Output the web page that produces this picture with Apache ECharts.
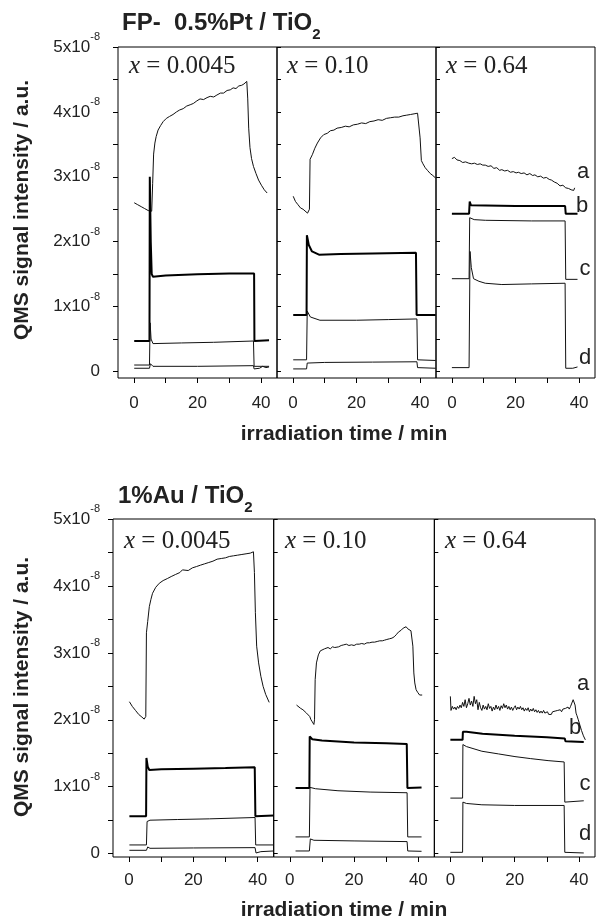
<!DOCTYPE html>
<html><head><meta charset="utf-8">
<script src="https://cdn.jsdelivr.net/npm/echarts@6/dist/echarts.min.js"></script>
<style>html,body{margin:0;padding:0;background:#fff}#c{width:596px;height:922px}</style>
</head><body><div id="c"></div>
<script>
// time in min; QMS signal in units of 1e-8 a.u.
const xTickValues = [0, 10, 20, 30, 40];
const xLabelValues = [0, 20, 40];
const yTickValues = [0, 0.5, 1, 1.5, 2, 2.5, 3, 3.5, 4, 4.5, 5];
const yLabelValues = [0, 1, 2, 3, 4, 5];
const panelXLabels = ['0.0045', '0.10', '0.64'];
const curveLetters = ['a', 'b', 'c', 'd'];

// ---- FP- 0.5%Pt / TiO2 ----
const pt1_a = [[0.1,2.6],[1.2,2.57],[2.3,2.54],[3.4,2.51],[4.5,2.48],[5.6,2.47],[5.9,2.9],[6.2,3.35],[6.6,3.52],[7.0,3.62],[7.6,3.72],[8.4,3.79],[9.2,3.85],[10.2,3.9],[11.2,3.93],[12.3,3.96],[13.4,4.0],[14.4,4.03],[15.5,4.05],[16.6,4.09],[17.7,4.11],[18.7,4.13],[19.8,4.17],[20.8,4.2],[21.9,4.19],[23.0,4.22],[24.0,4.24],[25.1,4.23],[26.1,4.26],[27.2,4.29],[28.2,4.29],[29.3,4.33],[30.3,4.34],[31.2,4.37],[32.1,4.36],[33.0,4.4],[33.9,4.41],[34.6,4.43],[35.2,4.43],[35.5,4.47],[35.8,4.2],[36.1,3.75],[36.5,3.45],[37.0,3.28],[37.6,3.16],[38.4,3.05],[39.2,2.95],[40.1,2.87],[41.0,2.8],[41.9,2.75]];
const pt1_b = [[0.1,0.47],[4.9,0.47],[5.0,3.0],[5.3,2.0],[5.6,1.5],[6.0,1.46],[10,1.48],[20,1.5],[30,1.51],[37.8,1.51],[37.9,0.47],[42.5,0.48]];
const pt1_c = [[0.1,0.1],[4.9,0.1],[5.1,0.75],[5.4,0.5],[6.0,0.43],[15,0.44],[25,0.45],[37.6,0.47],[37.8,0.08],[42.5,0.08]];
const pt1_d = [[0.1,0.05],[4.9,0.05],[5.2,0.12],[6.0,0.08],[20,0.08],[37.6,0.09],[37.8,0.04],[39.5,0.05],[40.5,0.08],[41.5,0.06],[42.5,0.07]];

const pt2_a = [[0.1,2.7],[0.8,2.62],[1.6,2.57],[2.4,2.52],[3.2,2.5],[3.8,2.47],[4.6,2.44],[5.2,2.5],[5.4,3.27],[6.1,3.34],[6.9,3.44],[7.7,3.52],[8.7,3.6],[9.7,3.65],[10.8,3.67],[11.8,3.71],[12.9,3.72],[13.9,3.75],[15.2,3.76],[16.5,3.78],[17.7,3.77],[19.0,3.8],[20.3,3.81],[21.6,3.83],[22.9,3.82],[24.2,3.85],[25.5,3.86],[26.8,3.88],[28.1,3.87],[29.4,3.9],[30.7,3.91],[32.0,3.92],[33.3,3.92],[34.6,3.94],[35.8,3.95],[37.0,3.96],[38.1,3.97],[39.2,3.98],[39.7,4.0],[40.0,3.6],[40.4,3.25],[40.9,3.2],[41.6,3.14],[42.3,3.1],[43.2,3.05],[44.0,3.02],[44.9,2.98]];
const pt2_b = [[0.1,0.87],[4.3,0.87],[4.4,2.1],[5.0,1.95],[6.0,1.85],[8.2,1.8],[15,1.81],[25,1.82],[38.7,1.83],[38.9,0.87],[44.9,0.87]];
const pt2_c = [[0.1,0.18],[4.3,0.18],[4.5,0.93],[5.5,0.84],[8.5,0.79],[20,0.79],[30,0.8],[39.0,0.81],[39.2,0.18],[44.9,0.17]];
const pt2_d = [[0.1,0.04],[4.3,0.04],[4.5,0.13],[10,0.14],[25,0.145],[39.0,0.15],[39.2,0.06],[44.9,0.05]];

const pt3_a = [[0,3.28],[0.8,3.3],[1.6,3.26],[2.5,3.25],[3.4,3.22],[4.3,3.23],[5.3,3.21],[6.2,3.2],[7.1,3.21],[8.0,3.19],[8.9,3.2],[9.7,3.18],[10.5,3.18],[11.4,3.16],[12.3,3.17],[13.2,3.13],[14.1,3.14],[15.0,3.1],[15.7,3.11],[16.6,3.09],[17.5,3.1],[18.4,3.07],[19.3,3.08],[20.2,3.06],[20.9,3.07],[21.8,3.05],[22.7,3.06],[23.6,3.03],[24.5,3.05],[25.4,3.02],[26.1,3.03],[27.0,3.0],[27.9,3.01],[28.8,2.98],[29.7,2.99],[30.6,2.96],[31.3,2.95],[32.2,2.92],[33.1,2.9],[34.0,2.86],[34.9,2.87],[35.8,2.83],[36.7,2.82],[37.5,2.8],[38.0,2.77],[38.3,2.79],[38.6,2.83]];
const pt3_b = [[0,2.43],[5.4,2.43],[5.6,2.62],[6.0,2.56],[20,2.55],[35.6,2.55],[35.8,2.43],[39.5,2.43]];
const pt3_c = [[0,1.43],[5.4,1.43],[5.6,2.37],[7.0,2.34],[10.5,2.33],[25,2.32],[35.6,2.32],[35.8,1.42],[39.5,1.42]];
const pt3_d = [[0,0.06],[5.4,0.06],[5.7,1.85],[6.1,1.6],[6.8,1.43],[8.5,1.39],[10.5,1.36],[15.7,1.34],[25,1.35],[35.6,1.36],[35.8,0.05],[38,0.05],[39.5,0.07]];

// ---- 1%Au / TiO2 ----
const au1_a = [[0.1,2.27],[1.0,2.2],[2.0,2.14],[3.0,2.08],[4.0,2.04],[4.7,2.01],[5.2,2.05],[5.4,3.3],[5.8,3.47],[6.3,3.69],[6.8,3.8],[7.3,3.89],[8.3,3.98],[9.4,4.04],[10.6,4.08],[11.9,4.11],[13.1,4.14],[14.4,4.17],[15.8,4.2],[16.6,4.24],[17.1,4.22],[18.4,4.23],[19.7,4.27],[21.0,4.29],[22.2,4.31],[23.5,4.33],[24.8,4.35],[26.1,4.37],[27.4,4.4],[28.7,4.41],[30.0,4.42],[31.2,4.44],[32.5,4.45],[33.8,4.46],[35.1,4.47],[36.4,4.48],[37.7,4.49],[38.7,4.51],[39.0,4.2],[39.3,3.6],[39.7,3.1],[40.3,2.85],[41.0,2.65],[41.7,2.5],[42.5,2.38],[43.6,2.26]];
const au1_b = [[0.1,0.56],[5.3,0.56],[5.4,1.43],[5.8,1.3],[6.3,1.25],[10,1.26],[20,1.27],[30,1.28],[39.1,1.29],[39.3,0.56],[45,0.57]];
const au1_c = [[0.1,0.13],[5.4,0.13],[5.6,0.48],[6.5,0.5],[15,0.51],[25,0.52],[39.2,0.54],[39.4,0.13],[45,0.13]];
const au1_d = [[0.1,0.05],[5.4,0.05],[5.8,0.1],[6.5,0.08],[20,0.085],[39.2,0.09],[39.5,0.01],[41,0.03],[45,0.04]];

const au2_a = [[2.1,2.22],[2.7,2.2],[3.4,2.17],[4.1,2.15],[4.6,2.13],[5.2,2.1],[5.7,2.08],[6.2,2.05],[6.6,2.0],[7.0,1.97],[7.3,1.99],[7.5,1.93],[7.7,2.0],[7.9,2.6],[8.3,2.85],[8.9,2.97],[9.5,3.03],[10.1,3.05],[10.8,3.06],[11.3,3.07],[11.9,3.08],[12.6,3.06],[13.3,3.09],[14.0,3.08],[14.5,3.1],[15.2,3.09],[16.0,3.11],[16.8,3.12],[17.6,3.13],[18.4,3.11],[19.2,3.12],[20.0,3.11],[20.8,3.13],[21.6,3.13],[22.4,3.14],[23.2,3.13],[24.0,3.15],[24.8,3.15],[25.6,3.16],[26.4,3.16],[27.2,3.17],[28.0,3.18],[28.8,3.18],[29.5,3.19],[30.2,3.2],[31.0,3.21],[31.8,3.22],[32.5,3.24],[33.1,3.27],[33.8,3.31],[34.7,3.34],[35.3,3.37],[35.8,3.38],[36.2,3.39],[36.7,3.36],[37.2,3.34],[37.7,3.33],[38.1,3.32],[38.3,3.1],[38.6,2.7],[38.9,2.55],[39.3,2.45],[39.8,2.41],[40.4,2.37],[40.8,2.38],[41.2,2.37]];
const au2_b = [[1.8,0.98],[6.1,0.98],[6.2,1.75],[7.0,1.71],[10,1.69],[20,1.66],[30,1.65],[36.4,1.64],[36.6,0.98],[41,0.99]];
const au2_c = [[1.8,0.25],[6.1,0.25],[6.3,0.99],[8,0.97],[15,0.94],[25,0.92],[36.5,0.91],[36.7,0.25],[41,0.25]];
const au2_d = [[1.8,0.04],[6.1,0.04],[6.4,0.22],[7.5,0.2],[20,0.19],[36.5,0.18],[36.7,0.04],[41,0.035]];

const au3_a = [[0,2.35],[0.2,2.14],[0.6,2.2],[1.0,2.16],[1.4,2.19],[1.8,2.15],[2.2,2.2],[2.6,2.17],[3.0,2.22],[3.4,2.18],[3.8,2.26],[4.2,2.2],[4.6,2.3],[5.0,2.18],[5.4,2.24],[5.8,2.32],[6.2,2.22],[6.6,2.28],[7.0,2.2],[7.4,2.35],[7.8,2.24],[8.2,2.3],[8.6,2.15],[9.0,2.26],[9.4,2.18],[9.8,2.14],[10.2,2.22],[10.6,2.16],[11.0,2.2],[11.4,2.15],[11.8,2.24],[12.2,2.17],[12.6,2.2],[13.0,2.13],[13.4,2.19],[13.8,2.15],[14.2,2.22],[14.6,2.16],[15.0,2.2],[15.4,2.14],[15.8,2.21],[16.2,2.17],[16.6,2.24],[17.0,2.18],[17.4,2.22],[17.8,2.16],[18.2,2.2],[18.6,2.15],[19.0,2.19],[19.4,2.14],[19.8,2.18],[20.2,2.21],[20.6,2.15],[21.0,2.19],[21.4,2.16],[21.8,2.2],[22.2,2.15],[22.6,2.18],[23.0,2.13],[23.4,2.17],[23.8,2.14],[24.2,2.18],[24.6,2.12],[25.0,2.16],[25.4,2.13],[25.8,2.17],[26.2,2.12],[26.6,2.15],[27.0,2.11],[27.4,2.14],[27.8,2.1],[28.2,2.13],[28.6,2.1],[29.0,2.14],[29.4,2.1],[29.8,2.09],[30.2,2.12],[30.6,2.08],[31.0,2.1],[31.4,2.08],[31.8,2.12],[32.2,2.1],[32.6,2.13],[33.0,2.11],[33.4,2.14],[33.8,2.12],[34.2,2.15],[34.6,2.12],[35.0,2.16],[35.4,2.14],[35.8,2.17],[36.2,2.15],[36.6,2.19],[37.0,2.16],[37.4,2.2],[37.8,2.25],[38.2,2.3],[38.5,2.32],[38.8,2.22],[39.1,2.1],[39.4,2.06],[39.8,2.0],[40.3,1.92],[40.8,1.84],[41.4,1.76],[42.0,1.7]];
const au3_b = [[0,1.70],[3.8,1.70],[3.9,1.82],[5,1.82],[10,1.79],[20,1.76],[30,1.74],[35.6,1.72],[35.8,1.68],[41.5,1.67]];
const au3_c = [[0,0.83],[3.8,0.83],[3.9,1.63],[5,1.6],[9.8,1.53],[15,1.49],[20.1,1.45],[25,1.42],[30.4,1.39],[35.4,1.37],[35.6,0.77],[41.5,0.79]];
const au3_d = [[0,0.02],[3.8,0.02],[3.9,0.77],[5,0.75],[9.8,0.73],[20,0.72],[35.4,0.72],[35.6,0.02],[41.5,0.01]];

const panelData = [
  [pt1_a, pt1_b, pt1_c, pt1_d], [pt2_a, pt2_b, pt2_c, pt2_d], [pt3_a, pt3_b, pt3_c, pt3_d],
  [au1_a, au1_b, au1_c, au1_d], [au2_a, au2_b, au2_c, au2_d], [au3_a, au3_b, au3_c, au3_d]
];

const rows = [
  {top: 47, height: 331, lefts: [118, 277, 436], width: 159, ymin: -0.1, xMargin: 17, yMargin: 18},
  {top: 519, height: 338, lefts: [113, 273.7, 434.3], width: 160.7, ymin: -0.05, xMargin: 15, yMargin: 13}
];

const SANS = 'Liberation Sans, Arial, sans-serif';
const SERIF = 'Liberation Serif, Times New Roman, serif';
const grids = [], xAxes = [], yAxes = [], series = [];
rows.forEach((r, ri) => {
  r.lefts.forEach((l, pi) => {
    const gi = grids.length;
    grids.push({left: l, top: r.top, width: r.width, height: r.height, show: true,
      borderColor: '#000', borderWidth: 1, backgroundColor: 'transparent', containLabel: false});
    xAxes.push({type: 'value', gridIndex: gi, min: -5, max: 45, position: 'bottom',
      axisLine: {show: false, onZero: false}, splitLine: {show: false},
      axisTick: {show: true, customValues: xTickValues, length: 5, lineStyle: {color: '#000'}},
      axisLabel: {show: true, customValues: xLabelValues, margin: r.xMargin, fontSize: 17,
        fontFamily: SANS, color: '#222'}});
    yAxes.push({type: 'value', gridIndex: gi, min: r.ymin, max: 5, position: 'left',
      axisLine: {show: false, onZero: false}, splitLine: {show: false},
      axisTick: {show: true, customValues: yTickValues, inside: pi > 0, length: pi > 0 ? 4 : 5,
        lineStyle: {color: '#000'}},
      axisLabel: {show: pi === 0, customValues: yLabelValues, margin: r.yMargin, fontFamily: SANS,
        formatter: v => v === 0 ? '{b|0}' : '{b|' + v + 'x10}{s|-8}',
        rich: {b: {fontSize: 17, lineHeight: 31, color: '#222', fontFamily: SANS},
               s: {fontSize: 11, lineHeight: 11, verticalAlign: 'top', color: '#222', fontFamily: SANS}}}});
    const d = panelData[gi];
    d.forEach((arr, ci) => {
      series.push({type: 'line', name: curveLetters[ci], xAxisIndex: gi, yAxisIndex: gi, data: arr,
        symbol: 'none', smooth: false, silent: true,
        lineStyle: {color: ci === 1 ? '#000' : '#111', width: ci === 1 ? 2 : 1}});
    });
  });
});

const titleRich = {
  b: {fontSize: 24, fontWeight: 'bold', lineHeight: 37, color: '#222', fontFamily: SANS},
  s: {fontSize: 15, fontWeight: 'bold', lineHeight: 15, verticalAlign: 'bottom', color: '#222', fontFamily: SANS}
};
const xRich = {
  i: {fontSize: 25, fontStyle: 'italic', fontWeight: 'normal', fontFamily: SERIF, color: '#222', lineHeight: 25},
  n: {fontSize: 25, fontWeight: 'normal', fontFamily: SERIF, color: '#222', lineHeight: 25}
};
const titles = [
  {text: '{b|FP-  0.5%Pt / TiO}{s|2}', left: 122, top: 5, padding: 0, textStyle: {rich: titleRich}},
  {text: '{b|1%Au / TiO}{s|2}', left: 118, top: 478, padding: 0, textStyle: {rich: titleRich}}
];
const xLabPos = [[129, 54], [287, 54], [446, 54], [124, 529], [285, 529], [445, 529]];
xLabPos.forEach((p, i) => {
  titles.push({text: '{i|x}{n| = ' + panelXLabels[i % 3] + '}', left: p[0], top: p[1], padding: 0,
    textStyle: {fontWeight: 'normal', rich: xRich}});
});

const letterPos = [[583, 172], [582, 206], [585, 269], [585, 358], [583, 684], [575, 728], [585, 784], [585, 834]];
const graphics = [];
letterPos.forEach((p, i) => {
  graphics.push({type: 'text', x: p[0], y: p[1], silent: true,
    style: {text: curveLetters[i % 4], font: '22px ' + SANS, fill: '#222',
      align: 'center', verticalAlign: 'middle', textAlign: 'center', textVerticalAlign: 'middle'}});
});
[[22, 210], [22, 687]].forEach(p => {
  graphics.push({type: 'text', x: p[0], y: p[1], rotation: Math.PI / 2, silent: true,
    style: {text: 'QMS signal intensity / a.u.', font: 'bold 21px ' + SANS, fill: '#222',
      align: 'center', verticalAlign: 'middle', textAlign: 'center', textVerticalAlign: 'middle'}});
});
[[344, 434], [344, 910]].forEach(p => {
  graphics.push({type: 'text', x: p[0], y: p[1], silent: true,
    style: {text: 'irradiation time / min', font: 'bold 21px ' + SANS, fill: '#222',
      align: 'center', verticalAlign: 'middle', textAlign: 'center', textVerticalAlign: 'middle'}});
});

const chart = echarts.init(document.getElementById('c'), null, {renderer: 'canvas'});
chart.setOption({
  animation: false,
  backgroundColor: '#fff',
  title: titles,
  grid: grids,
  xAxis: xAxes,
  yAxis: yAxes,
  series: series,
  graphic: graphics
});
</script></body></html>
